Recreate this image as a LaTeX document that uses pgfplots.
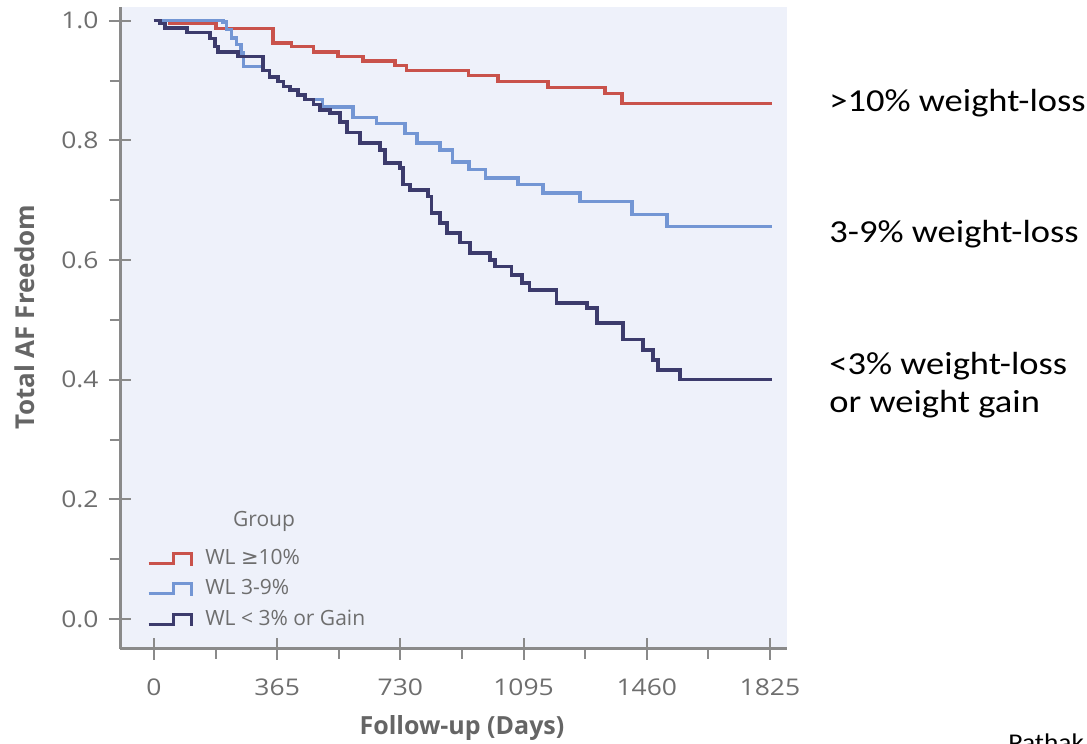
\documentclass[border=0pt]{standalone}
\usepackage{pgfplots}
\pgfplotsset{compat=1.18}
\usepackage{fontspec}
\setmainfont{Open Sans}
\newfontfamily\calfont{Carlito}
\newfontfamily\djv{DejaVu Sans}
\definecolor{bgc}{HTML}{EEF1FA}
\definecolor{axgray}{HTML}{8A8A8A}
\definecolor{txtgray}{HTML}{6E6E6E}
\definecolor{labgray}{HTML}{656565}
\definecolor{cred}{HTML}{C9524B}
\definecolor{cblue}{HTML}{7396D4}
\definecolor{cnavy}{HTML}{3C3B6C}
\pgfplotstableread{
x y
0 1.000
47 0.996
184 0.987
353 0.963
408 0.957
472 0.948
545 0.940
619 0.933
714 0.925
749 0.917
931 0.908
1019 0.898
1167 0.888
1336 0.878
1387 0.862
1830 0.862
}\redtab
\pgfplotstableread{
x y
0 1.000
205 0.998
215 0.985
230 0.971
245 0.960
258 0.946
265 0.924
323 0.917
343 0.906
367 0.898
383 0.890
403 0.884
427 0.876
447 0.868
500 0.856
590 0.838
660 0.828
744 0.812
779 0.796
847 0.784
885 0.764
933 0.751
983 0.737
1078 0.726
1153 0.712
1262 0.698
1416 0.676
1520 0.656
1830 0.656
}\bluetab
\pgfplotstableread{
x y
0 1.000
18 0.995
33 0.988
98 0.980
166 0.970
181 0.957
190 0.948
249 0.940
323 0.917
343 0.906
367 0.898
383 0.890
403 0.884
427 0.876
447 0.868
472 0.860
492 0.851
521 0.846
551 0.831
572 0.813
610 0.796
670 0.784
684 0.762
729 0.754
738 0.726
759 0.717
812 0.706
823 0.679
847 0.662
868 0.645
907 0.629
936 0.612
996 0.600
1010 0.589
1060 0.575
1090 0.562
1113 0.550
1192 0.528
1283 0.520
1313 0.495
1390 0.467
1449 0.450
1479 0.433
1493 0.416
1558 0.400
1830 0.400
}\navytab
\pgfplotsset{
  kmframe/.style={
    at={(60pt,47.5pt)}, anchor=south west,
    scale only axis, width=333.5pt, height=321pt,
    xmin=-100.7, xmax=1875.5, ymin=-0.05, ymax=1.023,
    axis x line*=bottom, axis y line*=left,
    xtick={0,365,730,1095,1460,1825},
    ytick={0,0.2,0.4,0.6,0.8,1.0},
    tick style={axgray, line width=1pt},
  }
}
\begin{document}
\begin{tikzpicture}
\path[use as bounding box] (0,0) rectangle (543.5pt,372pt);
\begin{axis}[
  kmframe,
  axis line style={axgray, line width=1.5pt, -},
  axis background/.style={fill=bgc},
  minor xtick={182.5,547.5,912.5,1277.5,1642.5},
  minor ytick={0.1,0.3,0.5,0.7,0.9},
  /pgf/number format/assume math mode=true,
  tick align=outside,
  major tick length=5.5pt, minor tick length=5pt,
  ticklabel style={font=\fontsize{11.5}{13}\selectfont, text=txtgray, xscale=1.15},
  xticklabel style={yshift=-6pt, /pgf/number format/set thousands separator={}},
  yticklabel style={xshift=-1pt, /pgf/number format/fixed, /pgf/number format/fixed zerofill, /pgf/number format/precision=1},
  legend cell align=left,
  legend style={at={(axis cs:-39.5,0.1304)}, anchor=north west, draw=none, fill=none,
    font=\fontsize{10.5}{12}\selectfont, text=txtgray, row sep=2pt},
  legend image code/.code={\draw[#1, line width=1.5pt] (0pt,-2.5pt) -- (12.5pt,-2.5pt) -- (12.5pt,2.5pt) -- (21.5pt,2.5pt) -- (21.5pt,-3.5pt); \path (25.5pt,0pt);},
]
\addplot[const plot, cred, line width=1.7pt] table[x=x,y=y] {\redtab};
\addlegendentry{WL {\djv ≥}10\%}
\addplot[const plot, cblue, line width=1.7pt] table[x=x,y=y] {\bluetab};
\addlegendentry{WL 3-9\%}
\addplot[const plot, cnavy, line width=1.7pt] table[x=x,y=y] {\navytab};
\addlegendentry{WL < 3\% or Gain}
\node[font=\fontsize{10.5}{12}\selectfont, text=txtgray] at (axis cs:326,0.1639) {Group};
\end{axis}
\begin{axis}[
  kmframe,
  axis line style={draw=none},
  tick align=inside, major tick length=5.5pt,
  xticklabels={}, yticklabels={},
]
\end{axis}
\node[rotate=90, font=\bfseries\fontsize{13}{15}\selectfont, text=labgray] at (12.5pt,213.5pt) {Total AF Freedom};
\node[font=\bfseries\fontsize{12.5}{14}\selectfont, text=labgray] at (231pt,8pt) {Follow-up (Days)};
\begin{scope}[every node/.style={anchor=base west, inner sep=0pt, font=\calfont\fontsize{16}{19}\selectfont, xscale=1.14}]
\node at (414.5pt,316pt) {>10\% weight-loss};
\node at (414.5pt,250.5pt) {3-9\% weight-loss};
\node at (414.5pt,184.5pt) {<3\% weight-loss};
\node at (414.5pt,165.5pt) {or weight gain};
\end{scope}
\node[anchor=base west, inner sep=0pt, font=\calfont\fontsize{12}{14}\selectfont, xscale=1.14] at (504pt,-3.5pt) {Pathak et al.};
\end{tikzpicture}
\end{document}
